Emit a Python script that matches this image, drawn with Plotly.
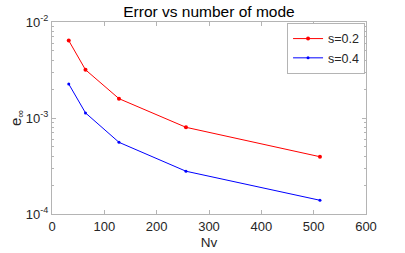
import plotly.graph_objects as go

nv = [32, 64, 128, 256, 512]
err_s02 = [6.4e-3, 3.18e-3, 1.59e-3, 8.0e-4, 3.95e-4]
err_s04 = [2.26e-3, 1.13e-3, 5.58e-4, 2.79e-4, 1.39e-4]
series_names = ["s=0.2", "s=0.4"]
x_ticks = [0, 100, 200, 300, 400, 500, 600]
y_ticks = [1e-4, 1e-3, 1e-2]
y_ticklabels = ["10<sup>-4</sup>", "10<sup>-3</sup>", "10<sup>-2</sup>"]

FONT = "Liberation Sans, Arial"
fig = go.Figure()
fig.add_trace(go.Scatter(x=nv, y=err_s02, mode="lines+markers", name=series_names[0],
                         line=dict(color="#ff0000", width=1), marker=dict(size=4, color="#ff0000")))
fig.add_trace(go.Scatter(x=nv, y=err_s04, mode="lines+markers", name=series_names[1],
                         line=dict(color="#0000ff", width=1), marker=dict(size=3, color="#0000ff")))

minor_vals = [m * 10**e for e in (-4, -3) for m in range(2, 10)]
axis_common = dict(showline=True, linecolor="#b4b4b4", linewidth=1, mirror="ticks",
                   ticks="inside", ticklen=4, tickcolor="#b4b4b4", showgrid=False, zeroline=False,
                   automargin=False,
                   tickfont=dict(family=FONT, size=13, color="#262626"))
fig.update_xaxes(range=[0, 600], tickvals=x_ticks, title=dict(text="Nv", standoff=4,
                 font=dict(family=FONT, size=13.5, color="#262626")), **axis_common)
fig.update_yaxes(type="log", range=[-4, -2], tickvals=y_ticks, ticktext=y_ticklabels,
                 title=dict(text="e<sub>∞</sub>", standoff=0,
                            font=dict(family=FONT, size=15, color="#262626")),
                 minor=dict(tickvals=minor_vals, ticks="inside", ticklen=2, tickcolor="#b4b4b4"),
                 **axis_common)

fig.update_layout(
    width=405, height=253,
    margin=dict(l=52, r=39, t=22, b=39, autoexpand=False),
    paper_bgcolor="white", plot_bgcolor="white",
    title=dict(text="Error vs number of mode", x=0.5, xref="paper", y=0.955, yanchor="middle",
               font=dict(family=FONT, size=15.5, color="#000000")),
    legend=dict(x=0.997, y=0.995, xanchor="right", yanchor="top", bgcolor="white",
                bordercolor="#b4b4b4", borderwidth=1, font=dict(family=FONT, size=12.5, color="#262626"),
                itemwidth=30, tracegroupgap=0),
    showlegend=True,
)
fig.write_html("out.html", config={"displayModeBar": False},
               post_script="document.body.style.margin='0';document.body.style.overflow='hidden';")
